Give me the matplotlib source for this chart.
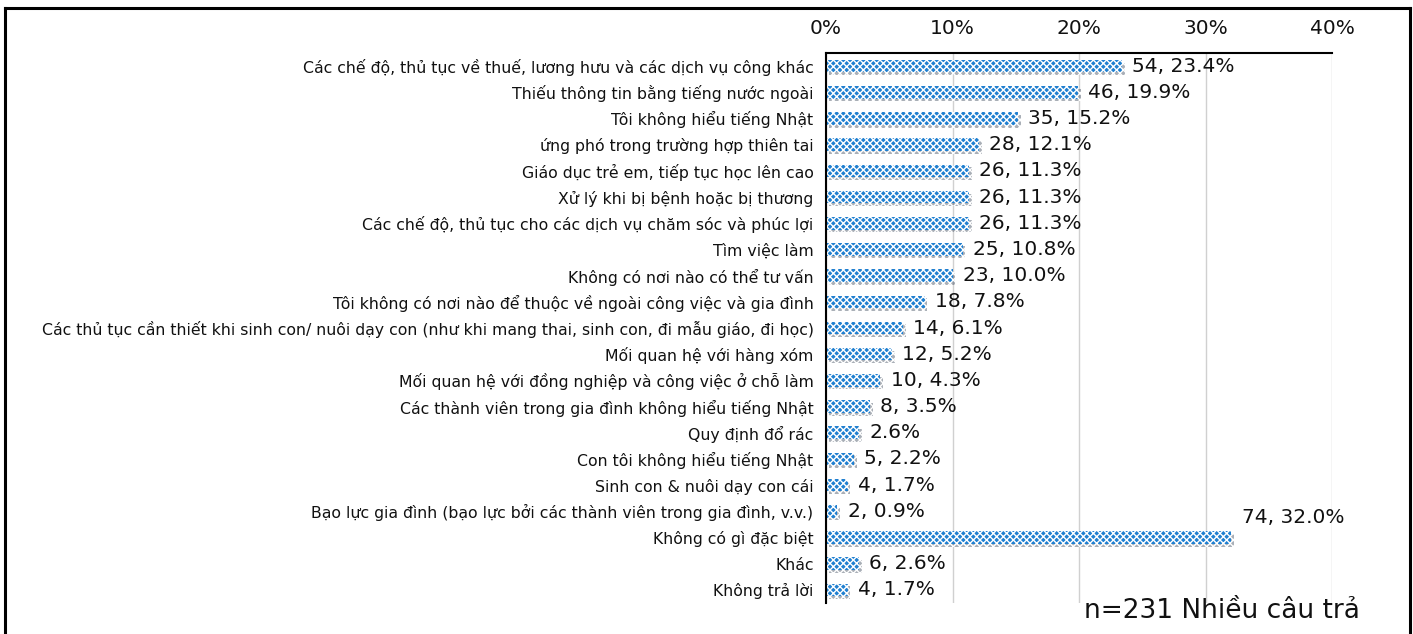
import matplotlib
matplotlib.use("Agg")
import matplotlib.pyplot as plt
import matplotlib.patheffects as pe
from matplotlib.lines import Line2D

categories = [
    "Các chế độ, thủ tục về thuế, lương hưu và các dịch vụ công khác",
    "Thiếu thông tin bằng tiếng nước ngoài",
    "Tôi không hiểu tiếng Nhật",
    "ứng phó trong trường hợp thiên tai",
    "Giáo dục trẻ em, tiếp tục học lên cao",
    "Xử lý khi bị bệnh hoặc bị thương",
    "Các chế độ, thủ tục cho các dịch vụ chăm sóc và phúc lợi",
    "Tìm việc làm",
    "Không có nơi nào có thể tư vấn",
    "Tôi không có nơi nào để thuộc về ngoài công việc và gia đình",
    "Các thủ tục cần thiết khi sinh con/ nuôi dạy con (như khi mang thai, sinh con, đi mẫu giáo, đi học)",
    "Mối quan hệ với hàng xóm",
    "Mối quan hệ với đồng nghiệp và công việc ở chỗ làm",
    "Các thành viên trong gia đình không hiểu tiếng Nhật",
    "Quy định đổ rác",
    "Con tôi không hiểu tiếng Nhật",
    "Sinh con & nuôi dạy con cái",
    "Bạo lực gia đình (bạo lực bởi các thành viên trong gia đình, v.v.)",
    "Không có gì đặc biệt",
    "Khác",
    "Không trả lời",
]
counts = [54, 46, 35, 28, 26, 26, 26, 25, 23, 18, 14, 12, 10, 8, 6, 5, 4, 2, 74, 6, 4]
percents = [23.4, 19.9, 15.2, 12.1, 11.3, 11.3, 11.3, 10.8, 10.0, 7.8, 6.1, 5.2, 4.3,
            3.5, 2.6, 2.2, 1.7, 0.9, 32.0, 2.6, 1.7]
value_labels = [f"{c}, {p:.1f}%" for c, p in zip(counts, percents)]
value_labels[14] = "2.6%"
x_ticks = [0, 10, 20, 30, 40]
x_ticklabels = ["0%", "10%", "20%", "30%", "40%"]
note = "n=231 Nhiều câu trả"

FONT = "DejaVu Sans"
W, H = 1413, 634
fig = plt.figure(figsize=(W / 100, H / 100), dpi=100)
ax = fig.add_axes([826 / W, 1 - 603 / H, (1332 - 826) / W, (603 - 53) / H])

ypos = list(range(len(categories)))
bars = ax.barh(ypos, percents, height=0.48, color="#1f7fd0", edgecolor="white",
               hatch="xxxxx", linewidth=0, zorder=3)
for b in bars:
    b.set_path_effects([pe.withSimplePatchShadow(offset=(2, -2), shadow_rgbFace="#556070", alpha=0.5),
                        pe.Normal()])

for i, (p, lab) in enumerate(zip(percents, value_labels)):
    if i == 18:
        ax.text(p + 0.9, i - 0.75, lab, va="center", ha="left", fontsize=14.5,
                family=FONT, color="#111111", zorder=4)
    else:
        ax.text(p + 0.8, i, lab, va="center", ha="left", fontsize=14.5,
                family=FONT, color="#111111", zorder=4)

ax.set_xlim(0, 40)
ax.set_ylim(len(categories) - 0.5, -0.5)
ax.set_yticks(ypos)
ax.set_yticklabels(categories, fontsize=11.3, family=FONT, color="#111111")
ax.set_xticks(x_ticks)
ax.set_xticklabels(x_ticklabels, fontsize=14.5, family=FONT, color="#111111")
ax.xaxis.tick_top()
ax.tick_params(axis="x", length=0, pad=11)
ax.tick_params(axis="y", length=0, pad=9)
ax.grid(axis="x", color="#d0d0d0", linewidth=1, zorder=0)
ax.set_axisbelow(True)
for s in ["right", "bottom"]:
    ax.spines[s].set_visible(False)
ax.spines["left"].set_linewidth(1.5)
ax.spines["top"].set_linewidth(1.5)
ax.spines["left"].set_zorder(5)

fig.text(1360 / W, 1 - 611 / H, note, ha="right", va="center", fontsize=19,
         family=FONT, color="#111111")

# outer frame
fl, fr, ft = 5 / W, 1410 / W, 1 - 8 / H
for xs, ys in [([fl, fl], [0, ft]), ([fl, fr], [ft, ft]), ([fr, fr], [ft, 0])]:
    fig.add_artist(Line2D(xs, ys, color="black", linewidth=2.2, transform=fig.transFigure))

fig.savefig("out.png", dpi=100)
